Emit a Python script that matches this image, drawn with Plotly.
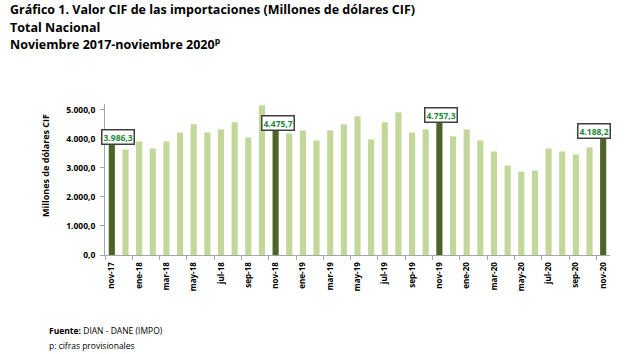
import plotly.graph_objects as go

months = ["nov-17","dic-17","ene-18","feb-18","mar-18","abr-18","may-18","jun-18","jul-18","ago-18","sep-18","oct-18",
          "nov-18","dic-18","ene-19","feb-19","mar-19","abr-19","may-19","jun-19","jul-19","ago-19","sep-19","oct-19",
          "nov-19","dic-19","ene-20","feb-20","mar-20","abr-20","may-20","jun-20","jul-20","ago-20","sep-20","oct-20","nov-20"]
values = [3986.3, 3630, 3910, 3670, 3910, 4220, 4500, 4220, 4325, 4570, 4050, 5160,
          4475.7, 4190, 4290, 3945, 4290, 4500, 4775, 3980, 4570, 4915, 4220, 4325,
          4757.3, 4085, 4325, 3945, 3565, 3080, 2870, 2905, 3670, 3565, 3460, 3705, 4188.2]
y_ticks = [0, 1000, 2000, 3000, 4000, 5000]
y_ticktext = ["0,0", "1.000,0", "2.000,0", "3.000,0", "4.000,0", "5.000,0"]
title_lines = ["Gráfico 1. Valor CIF de las importaciones (Millones de dólares CIF)",
               "Total Nacional",
               "Noviembre 2017-noviembre 2020<sup>p</sup>"]
y_title = "Millones de dólares CIF"

FONT = "Open Sans"
LIGHT = "#c4d79b"
DARK = "#4f6228"
W, H = 639, 354
ML, MR, MT, MB = 105, 29, 104, 99

def fmt(v):
    s = f"{v:,.1f}"
    return s.replace(",", "X").replace(".", ",").replace("X", ".")

def px_x(px):
    return (px - ML) / (W - ML - MR)

def px_y(py):
    return (H - MB - py) / (H - MT - MB)

x = list(range(len(months)))
highlight = [m.startswith("nov") for m in months]
colors = [DARK if h else LIGHT for h in highlight]

fig = go.Figure()
fig.add_trace(go.Bar(x=x, y=values, marker=dict(color=colors, line=dict(width=0)),
                     hoverinfo="skip"))
fig.add_trace(go.Scatter(x=[-0.5, 36.5], y=[0, 0], xaxis="x2", mode="markers",
                         marker=dict(opacity=0), hoverinfo="skip", showlegend=False))

tick_idx = x[::2]
fig.update_layout(
    width=W, height=H,
    margin=dict(l=ML, r=MR, t=MT, b=MB),
    paper_bgcolor="white", plot_bgcolor="white",
    showlegend=False, bargap=0.55,
    font=dict(family=FONT, color="#000000"),
    xaxis=dict(range=[-0.5, 36.5], tickmode="array", tickvals=tick_idx,
               ticktext=[months[i] for i in tick_idx], tickangle=-90,
               ticks="", showgrid=False, zeroline=False,
               showline=True, linecolor="#a6a6a6", linewidth=1,
               tickfont=dict(size=8, family=FONT, color="#000000", weight="bold"),
               ticklabelstandoff=3),
    xaxis2=dict(range=[-0.5, 36.5], overlaying="x", anchor="y", side="bottom",
                tickmode="array", tickvals=[i - 0.5 for i in range(0, 37, 2)],
                ticks="outside", ticklen=4, tickcolor="#a6a6a6", showticklabels=False,
                showgrid=False, zeroline=False, showline=False),
    yaxis=dict(range=[0, 5200], tickmode="array", tickvals=y_ticks, ticktext=y_ticktext,
               ticks="outside", ticklen=4, tickcolor="#a6a6a6",
               showgrid=False, zeroline=False, showline=True, linecolor="#a6a6a6", linewidth=1,
               tickfont=dict(size=8.5, family=FONT, color="#000000", weight="bold"),
               ticklabelstandoff=3),
)

fig.add_annotation(x=px_x(45), y=px_y(166), xref="paper", yref="paper",
                   xanchor="center", yanchor="middle", showarrow=False, textangle=-90,
                   text=f"<b>{y_title}</b>",
                   font=dict(size=9, family=FONT, color="#000000"))

for line, py in zip(title_lines, [10, 27, 44]):
    fig.add_annotation(x=px_x(8), y=px_y(py), xref="paper", yref="paper",
                       xanchor="left", yanchor="middle", showarrow=False,
                       text=f"<b>{line}</b>",
                       font=dict(size=12.5, family=FONT, color="#000000"))

shifts = {0: 6, 36: -9}
for i, (v, h) in enumerate(zip(values, highlight)):
    if h:
        fig.add_annotation(x=i, y=v, xref="x", yref="y", text=f"<b>{fmt(v)}</b>",
                           showarrow=False, yanchor="middle", yshift=2, xshift=shifts.get(i, 2),
                           font=dict(size=8.5, family=FONT, color="#1f8a3c"),
                           bgcolor="white", bordercolor="#404040", borderwidth=1.5, borderpad=1)

fig.add_annotation(x=px_x(47), y=px_y(330), xref="paper", yref="paper", xanchor="left", yanchor="middle",
                   showarrow=False, text="<b>Fuente:</b> DIAN - DANE (IMPO)",
                   font=dict(size=8.5, family=FONT, color="#000000"))
fig.add_annotation(x=px_x(47), y=px_y(345), xref="paper", yref="paper", xanchor="left", yanchor="middle",
                   showarrow=False, text="p: cifras provisionales",
                   font=dict(size=8.5, family=FONT, color="#000000"))

fig.write_html("out.html")
